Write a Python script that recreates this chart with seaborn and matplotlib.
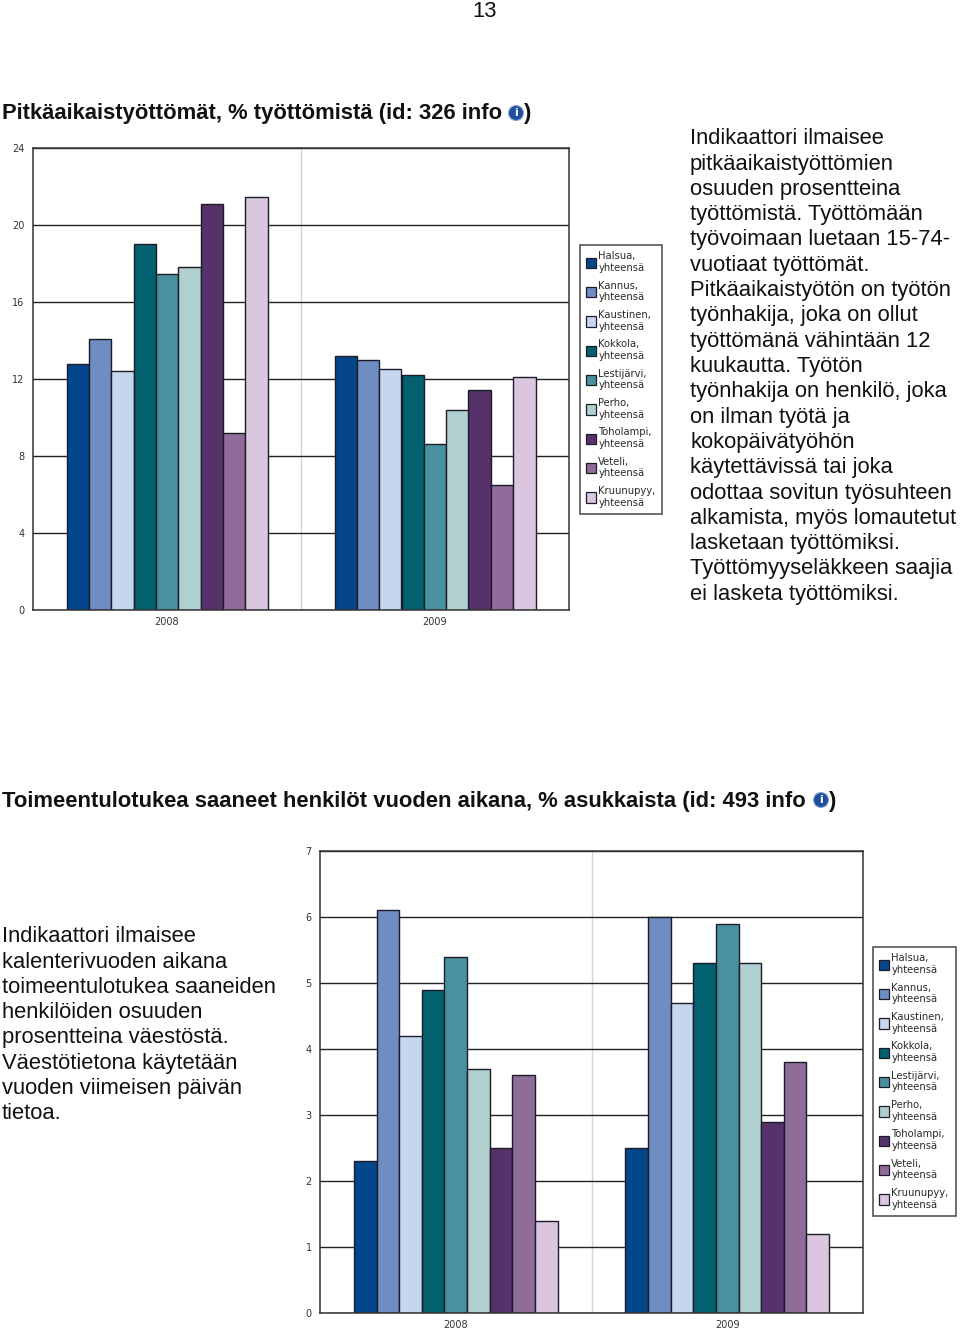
import pandas as pd
import matplotlib
matplotlib.use("Agg")
import matplotlib.pyplot as plt
from matplotlib.patches import Ellipse
import seaborn as sns

W, H = 960, 1329

years = ["2008", "2009"]
places = ["Halsua", "Kannus", "Kaustinen", "Kokkola", "Lestijärvi",
          "Perho", "Toholampi", "Veteli", "Kruunupyy"]
colors = ["#03468a", "#6e8dc2", "#c6d6ef", "#03606f", "#4a91a0",
          "#b0cfcf", "#55326a", "#906c9a", "#dac6de"]

long_2008 = [12.8, 14.1, 12.4, 19.0, 17.45, 17.8, 21.1, 9.2, 21.45]
long_2009 = [13.2, 13.0, 12.5, 12.2, 8.6, 10.4, 11.45, 6.5, 12.1]
income_2008 = [2.3, 6.1, 4.2, 4.9, 5.4, 3.7, 2.5, 3.6, 1.4]
income_2009 = [2.5, 6.0, 4.7, 5.3, 5.9, 5.3, 2.9, 3.8, 1.2]

title_1 = "Pitkäaikaistyöttömät, % työttömistä (id: 326 info"
title_2 = "Toimeentulotukea saaneet henkilöt vuoden aikana, % asukkaista (id: 493 info"

text_1 = ["Indikaattori ilmaisee", "pitkäaikaistyöttömien", "osuuden prosentteina",
          "työttömistä. Työttömään", "työvoimaan luetaan 15-74-", "vuotiaat työttömät.",
          "Pitkäaikaistyötön on työtön", "työnhakija, joka on ollut",
          "työttömänä vähintään 12", "kuukautta. Työtön", "työnhakija on henkilö, joka",
          "on ilman työtä ja", "kokopäivätyöhön", "käytettävissä tai joka",
          "odottaa sovitun työsuhteen", "alkamista, myös lomautetut",
          "lasketaan työttömiksi.", "Työttömyyseläkkeen saajia", "ei lasketa työttömiksi."]
text_2 = ["Indikaattori ilmaisee", "kalenterivuoden aikana", "toimeentulotukea saaneiden",
          "henkilöiden osuuden", "prosentteina väestöstä.", "Väestötietona käytetään",
          "vuoden viimeisen päivän", "tietoa."]

sns.set_theme(style="white")
plt.rcParams["font.family"] = ["Liberation Sans", "DejaVu Sans"]

fig = plt.figure(figsize=(W / 100, H / 100), dpi=100)


def px(x, y):
    return x / W, 1 - y / H


def grouped_bars(v1, v2, box, ymax, step, legend_box):
    left, top, right, bottom = box
    ax = fig.add_axes([left / W, 1 - bottom / H, (right - left) / W, (bottom - top) / H])
    df = pd.DataFrame({
        "year": [years[0]] * 9 + [years[1]] * 9,
        "place": places * 2,
        "value": v1 + v2,
    })
    ax.set_axisbelow(True)
    sns.barplot(data=df, x="year", y="value", hue="place", hue_order=places, palette=colors,
                width=0.75, gap=0, saturation=1, edgecolor="#1c1c28", linewidth=1.0,
                ax=ax, legend=False)
    ax.set_xlim(-0.5, 1.5)
    ax.set_ylim(0, ymax)
    ax.set_yticks(range(0, ymax + 1, step))
    ax.grid(axis="y", color="#222222", linewidth=1.0)
    ax.axvline(0.5, color="#d4d4d4", linewidth=1.0, zorder=0)
    ax.set_xlabel("")
    ax.set_ylabel("")
    for s in ax.spines.values():
        s.set_color("#333333")
        s.set_linewidth(1.1)
    ax.tick_params(axis="x", length=0, labelsize=7, labelcolor="#333333", pad=5)
    ax.tick_params(axis="y", length=0, labelsize=7, labelcolor="#333333", pad=6)
    for lab in ax.get_xticklabels() + ax.get_yticklabels():
        lab.set_fontfamily("DejaVu Sans")

    # legend is placed by hand so the box lands where the original one is
    handles = [plt.Rectangle((0, 0), 1, 1, facecolor=c, edgecolor="#1c1c28", linewidth=0.9) for c in colors]
    labels = [p + ",\nyhteensä" for p in places]
    lx0, ly0, lx1, ly1 = legend_box
    x0, y1 = px(lx0, ly0)
    x1, y0 = px(lx1, ly1)
    leg = fig.legend(handles, labels, loc="lower left", bbox_to_anchor=(x0, y0, x1 - x0, y1 - y0),
                     mode="expand", fancybox=False, edgecolor="#555555", framealpha=1,
                     prop={"family": "DejaVu Sans", "size": 7.2}, labelspacing=0.76,
                     handlelength=1.0, handleheight=1.2, handletextpad=0.22,
                     borderpad=0.62, borderaxespad=0, labelcolor="#2a2a2a")
    leg.get_frame().set_linewidth(1.2)
    for t in leg.get_texts():
        t.set_linespacing(1.22)
    return ax


def info_icon(x, y):
    cx, cy = px(x, y)
    fig.add_artist(Ellipse((cx, cy), 15 / W, 15 / H, transform=fig.transFigure,
                           facecolor="#1d4f9e", edgecolor="#8fa8d0", linewidth=0.8))
    fig.text(cx, cy, "i", ha="center", va="center", fontsize=8, color="white",
             weight="bold", family="DejaVu Sans")


def put_lines(lines, x, y, step=25.3):
    for i, line in enumerate(lines):
        tx, ty = px(x, y + i * step)
        fig.text(tx, ty, line, ha="left", va="baseline", fontsize=15.8, color="#111111")


grouped_bars(long_2008, long_2009, (33, 148, 569, 610), 24, 4, (580, 245, 662, 514))
grouped_bars(income_2008, income_2009, (320, 851, 863, 1313), 7, 1, (873, 947, 956, 1216))

tx, ty = px(485, 17)
fig.text(tx, ty, "13", ha="center", va="baseline", fontsize=15.8, color="#111111")

tx, ty = px(2, 119)
fig.text(tx, ty, title_1, ha="left", va="baseline", fontsize=15.85, weight="bold", color="#111111")
info_icon(516, 113)
tx, ty = px(524, 119)
fig.text(tx, ty, ")", ha="left", va="baseline", fontsize=15.85, weight="bold", color="#111111")

tx, ty = px(2, 807)
fig.text(tx, ty, title_2, ha="left", va="baseline", fontsize=15.85, weight="bold", color="#111111")
info_icon(821, 800)
tx, ty = px(829, 807)
fig.text(tx, ty, ")", ha="left", va="baseline", fontsize=15.85, weight="bold", color="#111111")

put_lines(text_1, 690, 144.3)
put_lines(text_2, 2, 942.3)

fig.savefig("out.png", dpi=100)
